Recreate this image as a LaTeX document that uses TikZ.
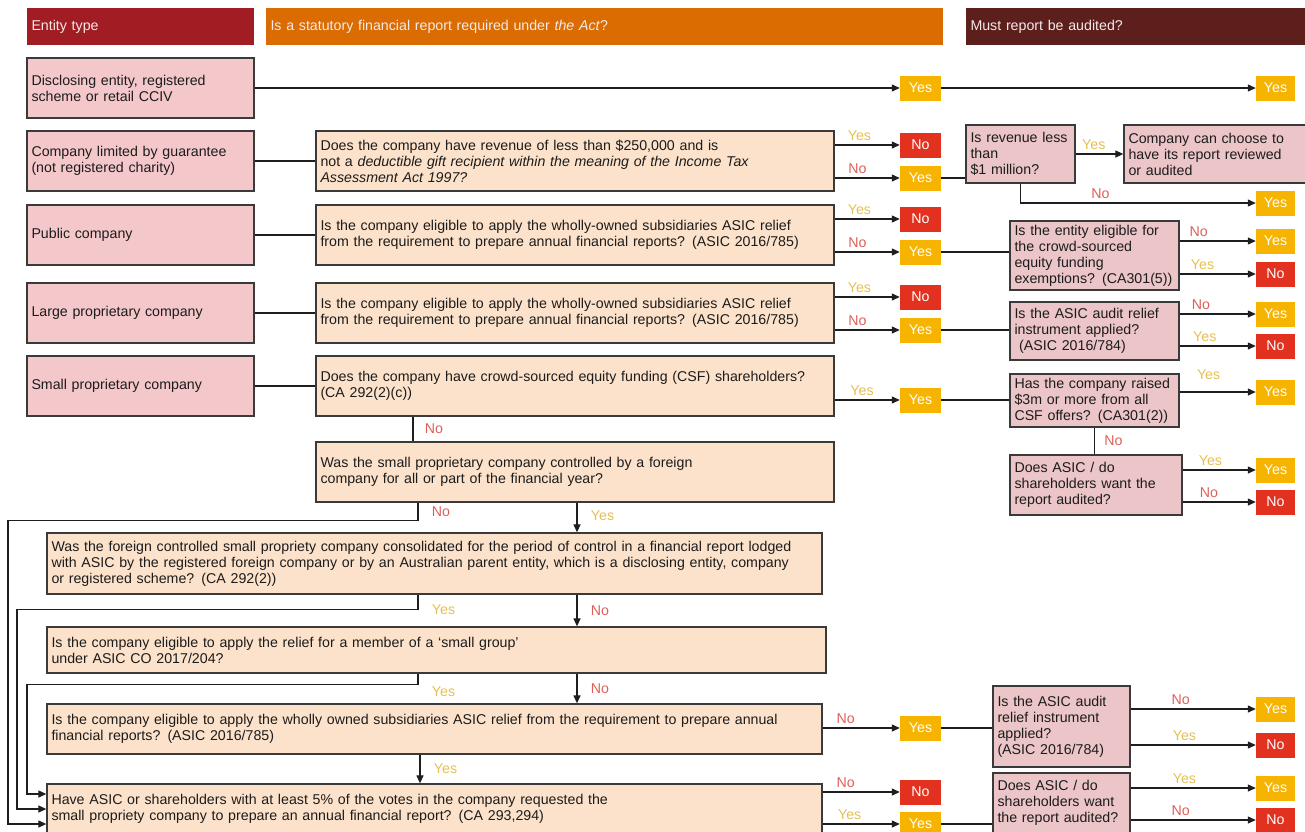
\documentclass[tikz,border=0pt]{standalone}
\usepackage{fontspec}
\setmainfont{Liberation Sans}
\usetikzlibrary{arrows.meta}

\definecolor{entityfill}{HTML}{F4C7CB}
\definecolor{questionfill}{HTML}{FCE2CB}
\definecolor{auditfill}{HTML}{EBC5C7}
\definecolor{boxline}{HTML}{3A3A3A}
\definecolor{boxtext}{HTML}{1C1C1C}
\definecolor{flowline}{HTML}{1E1E1E}
\definecolor{headred}{HTML}{A11D23}
\definecolor{headorange}{HTML}{DA6C02}
\definecolor{headbrown}{HTML}{5D1F1B}
\definecolor{headtext}{HTML}{F5E9E9}
\definecolor{yesfill}{HTML}{F6B300}
\definecolor{nofill}{HTML}{E2321F}
\definecolor{yestext}{HTML}{E6BF50}
\definecolor{notext}{HTML}{DE5F58}

\newcommand\chartfont{\fontsize{14.2}{16}\selectfont}

\begin{document}
\begin{tikzpicture}[x=1pt,y=-1pt,>={Triangle[length=8pt,width=7pt]},
  box/.style={draw=boxline,line width=1.3pt,align=left,inner xsep=4.5pt,inner ysep=1pt,text=boxtext,font=\chartfont},
  dims/.style 2 args={minimum width=#1pt,minimum height=#2pt,text width=#1pt-9pt},
  entity/.style={box,fill=entityfill},
  question/.style={box,fill=questionfill},
  audit/.style={box,fill=auditfill},
  header/.style={fill=#1,text=headtext,align=left,inner xsep=4.5pt,inner ysep=1pt,font=\chartfont},
  result/.style={minimum width=41pt,minimum height=25pt,inner sep=0pt,text=white,font=\chartfont},
  yesbox/.style={result,fill=yesfill},
  nobox/.style={result,fill=nofill},
  final/.style={minimum width=39pt},
  yeslbl/.style={text=yestext,font=\chartfont},
  nolbl/.style={text=notext,font=\chartfont},
  flow/.style={draw=flowline,line width=1.2pt}]
\path[use as bounding box,clip] (0,0) rectangle (1305,831);

% Lanes
\coordinate (MainLane) at (577,0);
\coordinate (CsfLane) at (413,0);
\coordinate (LoopStart) at (418,0);
\coordinate (SideLane) at (420,0);
\coordinate (OuterLoop) at (8,0);
\coordinate (MidLoop) at (17,0);
\coordinate (InnerLoop) at (27,0);

% Headers
\node[header=headred,dims={227}{37}] (EntityHead) at (140.5,26.5) {Entity type};
\node[header=headorange,dims={677}{37}] (ActHead) at (604.5,26.5) {Is a statutory financial report required under \textit{the Act}?};
\node[header=headbrown,dims={345}{37}] (AuditHead) at (1138.5,26.5) {Must report be audited?};

% Entity types
\node[entity,dims={227}{60}] (Disclosing) at (140.5,88) {Disclosing entity, registered\\scheme or retail CCIV};
\node[entity,dims={227}{60}] (Guarantee) at (140.5,161) {Company limited by guarantee\\(not registered charity)};
\node[entity,dims={227}{60}] (Public) at (140.5,235) {Public company};
\node[entity,dims={227}{60}] (LargeProp) at (140.5,313) {Large proprietary company};
\node[entity,dims={227}{60}] (SmallProp) at (140.5,386) {Small proprietary company};

% Questions: report required?
\node[question,dims={518}{60}] (Revenue) at (575,161) {Does the company have revenue of less than \$250,000 and is\\not a \textit{deductible gift recipient within the meaning of the Income Tax}\\\textit{Assessment Act 1997?}};
\node[question,dims={518}{60}] (PublicRelief) at (575,235) {Is the company eligible to apply the wholly-owned subsidiaries ASIC relief\\from the requirement to prepare annual financial reports? (ASIC 2016/785)};
\node[question,dims={518}{60}] (LargeRelief) at (575,313) {Is the company eligible to apply the wholly-owned subsidiaries ASIC relief\\from the requirement to prepare annual financial reports? (ASIC 2016/785)};
\node[question,dims={518}{60}] (CsfHolders) at (575,386) {Does the company have crowd-sourced equity funding (CSF) shareholders?\\(CA 292(2)(c))};
\node[question,dims={518}{60}] (Foreign) at (575,472) {Was the small proprietary company controlled by a foreign\\company for all or part of the financial year?};
\node[question,dims={775}{61}] (Consolidated) at (434.5,563.5) {Was the foreign controlled small propriety company consolidated for the period of control in a financial report lodged\\with ASIC by the registered foreign company or by an Australian parent entity, which is a disclosing entity, company\\or registered scheme? (CA 292(2))};
\node[question,dims={779}{46}] (SmallGroup) at (436.5,650) {Is the company eligible to apply the relief for a member of a ‘small group’\\under ASIC CO 2017/204?};
\node[question,dims={775}{50}] (WhollyOwned) at (434.5,729) {Is the company eligible to apply the wholly owned subsidiaries ASIC relief from the requirement to prepare annual\\financial reports? (ASIC 2016/785)};
\node[question,dims={775}{50}] (Requested) at (434.5,809) {Have ASIC or shareholders with at least 5\% of the votes in the company requested the\\small propriety company to prepare an annual financial report? (CA 293,294)};
\coordinate (EntryHigh) at ([yshift=15pt]Requested.west);
\coordinate (EntryMid) at (Requested.west);
\coordinate (EntryLow) at ([yshift=-15pt]Requested.west);

% Results: report required?
\node[yesbox] (DisclosingYes) at (920.5,88) {Yes};
\node[nobox] (RevenueNo) at (920.5,145) {No};
\node[yesbox] (RevenueYes) at (920.5,178) {Yes};
\node[nobox] (PublicNo) at (920.5,219) {No};
\node[yesbox] (PublicYes) at (920.5,252) {Yes};
\node[nobox] (LargeNo) at (920.5,297) {No};
\node[yesbox] (LargeYes) at (920.5,330) {Yes};
\node[yesbox] (CsfYes) at (920.5,400) {Yes};
\node[yesbox] (WhollyYes) at (920.5,728) {Yes};
\node[nobox] (RequestedNo) at (920.5,792) {No};
\node[yesbox] (RequestedYes) at (920.5,824) {Yes};

% Questions: audit
\node[audit,dims={109}{58}] (Million) at (1020.5,154) {Is revenue less\\than\\\$1 million?};
\node[audit,dims={186}{58}] (Choose) at (1217,154) {Company can choose to\\have its report reviewed\\or audited};
\node[audit,dims={169}{69}] (CsfExempt) at (1094.5,255.5) {Is the entity eligible for\\the crowd-sourced\\equity funding\\exemptions? (CA301(5))};
\node[audit,dims={169}{58}] (AuditRelief) at (1094.5,331) {Is the ASIC audit relief\\instrument applied?\\\ (ASIC 2016/784)};
\node[audit,dims={169}{53}] (Raised) at (1094.5,400.5) {Has the company raised\\\$3m or more from all\\CSF offers? (CA301(2))};
\node[audit,dims={172}{60}] (WantAudit) at (1096,485) {Does ASIC / do\\shareholders want the\\report audited?};
\node[audit,dims={137}{81}] (SmallRelief) at (1061.5,726.5) {Is the ASIC audit\\relief instrument\\applied?\\(ASIC 2016/784)};
\node[audit,dims={137}{60}] (SmallWant) at (1061.5,803) {Does ASIC / do\\shareholders want\\the report audited?};

% Results: audit
\node[yesbox,final] (DisclosingAudit) at (1275.5,88) {Yes};
\node[yesbox,final] (MillionYes) at (1275.5,203) {Yes};
\node[yesbox,final] (CsfExemptYes) at (1275.5,241) {Yes};
\node[nobox,final] (CsfExemptNo) at (1275.5,274) {No};
\node[yesbox,final] (AuditReliefYes) at (1275.5,314) {Yes};
\node[nobox,final] (AuditReliefNo) at (1275.5,346) {No};
\node[yesbox,final] (RaisedYes) at (1275.5,392) {Yes};
\node[yesbox,final] (WantAuditYes) at (1275.5,470) {Yes};
\node[nobox,final] (WantAuditNo) at (1275.5,502) {No};
\node[yesbox,final] (SmallReliefYes) at (1275.5,709) {Yes};
\node[nobox,final] (SmallReliefNo) at (1275.5,745) {No};
\node[yesbox,final] (SmallWantYes) at (1275.5,788) {Yes};
\node[nobox,final] (SmallWantNo) at (1275.5,820) {No};

% Calls: entity to question
\draw[flow,->] (Disclosing) -- (DisclosingYes);
\draw[flow] (Guarantee) -- (Revenue);
\draw[flow] (Public) -- (PublicRelief);
\draw[flow] (LargeProp) -- (LargeRelief);
\draw[flow] (SmallProp) -- (CsfHolders);

% Calls: report required?
\draw[flow,->] (Revenue.east |- RevenueNo) -- node[yeslbl,above,pos=0.38] {Yes} (RevenueNo);
\draw[flow,->] (Revenue.east |- RevenueYes) -- node[nolbl,above,pos=0.35] {No} (RevenueYes);
\draw[flow,->] (PublicRelief.east |- PublicNo) -- node[yeslbl,above,pos=0.38] {Yes} (PublicNo);
\draw[flow,->] (PublicRelief.east |- PublicYes) -- node[nolbl,above,pos=0.35] {No} (PublicYes);
\draw[flow,->] (LargeRelief.east |- LargeNo) -- node[yeslbl,above,pos=0.38] {Yes} (LargeNo);
\draw[flow,->] (LargeRelief.east |- LargeYes) -- node[nolbl,above,pos=0.35] {No} (LargeYes);
\draw[flow,->] (CsfHolders.east |- CsfYes) -- node[yeslbl,above,pos=0.42] {Yes} (CsfYes);
\draw[flow,->] (WhollyOwned.east |- WhollyYes) -- node[nolbl,above,pos=0.3] {No} (WhollyYes);
\draw[flow,->] (Requested.east |- RequestedNo) -- node[nolbl,above,pos=0.3] {No} (RequestedNo);
\draw[flow,->] (Requested.east |- RequestedYes) -- node[yeslbl,above,pos=0.35] {Yes} (RequestedYes);

% Calls: small proprietary chain
\draw[flow] (CsfLane |- CsfHolders.south) -- node[nolbl,right=8pt] {No} (CsfLane |- Foreign.north);
\draw[flow,->] (MainLane |- Foreign.south) -- node[yeslbl,right=10pt,pos=0.45] {Yes} (MainLane |- Consolidated.north);
\draw[flow,->] (MainLane |- Consolidated.south) -- node[nolbl,right=10pt] {No} (MainLane |- SmallGroup.north);
\draw[flow,->] (MainLane |- SmallGroup.south) -- node[nolbl,right=10pt] {No} (MainLane |- WhollyOwned.north);
\draw[flow,->] (SideLane |- WhollyOwned.south) -- node[yeslbl,right=10pt] {Yes} (SideLane |- Requested.north);
\draw[flow,->] (LoopStart |- Foreign.south) -- node[nolbl,right=10pt] {No} ++(0,18) -| (OuterLoop |- EntryLow) -- (EntryLow);
\draw[flow,->] (LoopStart |- Consolidated.south) -- node[yeslbl,right=10pt,pos=1] {Yes} ++(0,15) -| (MidLoop |- EntryMid) -- (EntryMid);
\draw[flow,->] (LoopStart |- SmallGroup.south) -- node[yeslbl,right=10pt,pos=1,yshift=-7pt] {Yes} ++(0,11) -| (InnerLoop |- EntryHigh) -- (EntryHigh);

% Calls: audit
\draw[flow,->] (DisclosingYes) -- (DisclosingAudit);
\draw[flow] (RevenueYes) -- (RevenueYes -| Million.west);
\draw[flow,->] (Million) -- node[yeslbl,above,pos=0.38] {Yes} (Choose);
\draw[flow,->] (Million.south) |- node[nolbl,above,pos=0.67] {No} (MillionYes);
\draw[flow] (PublicYes) -- (PublicYes -| CsfExempt.west);
\draw[flow,->] (CsfExempt.east |- CsfExemptYes) -- node[nolbl,above,pos=0.25] {No} (CsfExemptYes);
\draw[flow,->] (CsfExempt.east |- CsfExemptNo) -- node[yeslbl,above,pos=0.3] {Yes} (CsfExemptNo);
\draw[flow] (LargeYes) -- (LargeYes -| AuditRelief.west);
\draw[flow,->] (AuditRelief.east |- AuditReliefYes) -- node[nolbl,above,pos=0.28] {No} (AuditReliefYes);
\draw[flow,->] (AuditRelief.east |- AuditReliefNo) -- node[yeslbl,above,pos=0.33] {Yes} (AuditReliefNo);
\draw[flow] (CsfYes) -- (CsfYes -| Raised.west);
\draw[flow,->] (Raised.east |- RaisedYes) -- node[yeslbl,above=8pt,pos=0.38] {Yes} (RaisedYes);
\draw[flow] (Raised.south) -- node[nolbl,right=6pt] {No} (Raised.south |- WantAudit.north);
\draw[flow,->] (WantAudit.east |- WantAuditYes) -- node[yeslbl,above,pos=0.38] {Yes} (WantAuditYes);
\draw[flow,->] (WantAudit.east |- WantAuditNo) -- node[nolbl,above,pos=0.36] {No} (WantAuditNo);
\draw[flow] (WhollyYes) -- (WhollyYes -| SmallRelief.west);
\draw[flow,->] (SmallRelief.east |- SmallReliefYes) -- node[nolbl,above,pos=0.4] {No} (SmallReliefYes);
\draw[flow,->] (SmallRelief.east |- SmallReliefNo) -- node[yeslbl,above,pos=0.43] {Yes} (SmallReliefNo);
\draw[flow] (RequestedYes) -- (RequestedYes -| SmallWant.west);
\draw[flow,->] (SmallWant.east |- SmallWantYes) -- node[yeslbl,above,pos=0.43] {Yes} (SmallWantYes);
\draw[flow,->] (SmallWant.east |- SmallWantNo) -- node[nolbl,above,pos=0.4] {No} (SmallWantNo);
\end{tikzpicture}
\end{document}
